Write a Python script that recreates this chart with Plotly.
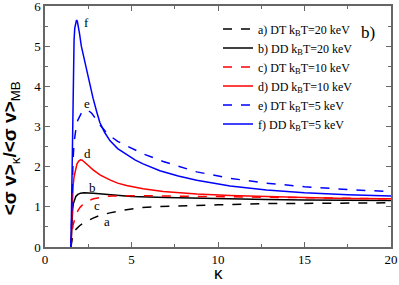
import plotly.graph_objects as go

# a) DT kBT=20 keV
xa = [1.5, 1.53, 1.57, 1.62, 1.7, 1.8, 2.0, 2.2, 2.4, 2.78, 3.2, 3.75, 4.71, 5.6, 6.64, 8.0, 10, 12.8, 15, 17.5, 20]
ya = [0, 0.12, 0.24, 0.33, 0.4, 0.45, 0.53, 0.59, 0.64, 0.72, 0.79, 0.85, 0.93, 0.98, 1.01, 1.03, 1.05, 1.08, 1.09, 1.10, 1.10]
# b) DD kBT=20 keV
xb = [1.5, 1.52, 1.54, 1.57, 1.6, 1.64, 1.7, 1.78, 1.9, 2.05, 2.25, 2.45, 2.8, 3.3, 4.0, 5.0, 7.0, 10, 12.8, 15, 20]
yb = [0, 0.25, 0.5, 0.78, 0.95, 1.08, 1.18, 1.26, 1.31, 1.34, 1.35, 1.35, 1.34, 1.32, 1.29, 1.26, 1.23, 1.20, 1.18, 1.17, 1.16]
# c) DT kBT=10 keV
xc = [1.5, 1.53, 1.57, 1.62, 1.7, 1.8, 1.92, 2.05, 2.25, 2.5, 2.8, 3.17, 3.5, 3.9, 4.5, 5.5, 7, 10, 12.8, 15, 20]
yc = [0, 0.22, 0.4, 0.54, 0.69, 0.82, 0.92, 1.0, 1.08, 1.15, 1.2, 1.24, 1.26, 1.27, 1.28, 1.28, 1.27, 1.25, 1.23, 1.22, 1.20]
# d) DD kBT=10 keV
xd = [1.5, 1.53, 1.57, 1.62, 1.68, 1.75, 1.85, 1.95, 2.05, 2.15, 2.3, 2.5, 2.78, 3.2, 3.75, 4.2, 4.71, 5.67, 6.83, 8.77, 10.7, 12.8, 15, 17.5, 20]
yd = [0, 0.55, 1.1, 1.5, 1.75, 1.92, 2.07, 2.14, 2.17, 2.16, 2.11, 2.03, 1.92, 1.79, 1.67, 1.59, 1.53, 1.45, 1.38, 1.32, 1.28, 1.25, 1.23, 1.21, 1.20]
# e) DT kBT=5 keV
xe = [1.5, 1.53, 1.57, 1.62, 1.68, 1.75, 1.82, 1.9, 2.0, 2.1, 2.2, 2.35, 2.5, 2.7, 2.9, 3.17, 3.45, 3.75, 4.2, 4.71, 5.67, 6.83, 8.77, 10.7, 12.8, 15, 17.5, 20]
ye = [0, 0.7, 1.5, 2.15, 2.6, 2.88, 3.04, 3.16, 3.26, 3.33, 3.38, 3.41, 3.40, 3.33, 3.21, 3.04, 2.9, 2.77, 2.63, 2.52, 2.32, 2.13, 1.87, 1.71, 1.59, 1.50, 1.43, 1.38]
# f) DD kBT=5 keV
xf = [1.5, 1.53, 1.56, 1.6, 1.64, 1.68, 1.72, 1.77, 1.82, 1.87, 1.93, 2.0, 2.1, 2.25, 2.4, 2.6, 2.78, 3.0, 3.17, 3.45, 3.75, 4.2, 4.71, 5.2, 5.67, 6.64, 7.7, 8.77, 10.7, 12.8, 15, 17.5, 20]
yf = [0, 0.9, 2.0, 3.4, 4.5, 5.15, 5.45, 5.6, 5.65, 5.62, 5.5, 5.3, 5.0, 4.7, 4.42, 4.03, 3.7, 3.35, 3.1, 2.85, 2.65, 2.45, 2.30, 2.17, 2.07, 1.90, 1.77, 1.66, 1.52, 1.42, 1.35, 1.30, 1.27]

names = ["a) DT k<sub>B</sub>T=20 keV", "b) DD k<sub>B</sub>T=20 keV",
         "c) DT k<sub>B</sub>T=10 keV", "d) DD k<sub>B</sub>T=10 keV",
         "e) DT k<sub>B</sub>T=5 keV", "f) DD k<sub>B</sub>T=5 keV"]
series = [(xa, ya), (xb, yb), (xc, yc), (xd, yd), (xe, ye), (xf, yf)]
colors = ["black", "black", "red", "red", "blue", "blue"]
dashes = ["dash", "solid", "dash", "solid", "dash", "solid"]

# curve labels
lab_text = ["a", "b", "c", "d", "e", "f"]
lab_x = [3.3, 2.42, 2.7, 2.15, 2.15, 2.15]
lab_y = [0.64, 1.47, 1.03, 2.34, 3.58, 5.6]

x_title = "κ"
y_title = "<b>&lt;σ v&gt;</b><sub>κ</sub><b>/&lt;σ v&gt;</b><sub>MB</sub>"

fig = go.Figure()
for (x, y), n, c, d in zip(series, names, colors, dashes):
    fig.add_trace(go.Scatter(x=x, y=y, name=n, mode="lines",
                             line=dict(color=c, dash=d, width=1.5)))

serif = "Liberation Serif, Times New Roman, DejaVu Serif, serif"
for t, x, y in zip(lab_text, lab_x, lab_y):
    fig.add_annotation(x=x, y=y, text=t, showarrow=False, xanchor="left", yanchor="middle",
                       font=dict(family=serif, size=13, color="black"))

fig.add_annotation(x=0.96, y=0.889, xref="paper", yref="paper", text="b)", showarrow=False,
                   xanchor="right", yanchor="middle", font=dict(family=serif, size=17, color="black"))

# axis titles as annotations for exact placement
fig.add_annotation(x=0.5, y=-0.112, xref="paper", yref="paper", text=x_title, showarrow=False,
                   xanchor="center", yanchor="middle",
                   font=dict(family="Liberation Sans", size=17, color="black"))
fig.add_annotation(x=-0.098, y=0.41, xref="paper", yref="paper", text=y_title, showarrow=False,
                   textangle=-90, xanchor="center", yanchor="middle",
                   font=dict(family="Liberation Sans", size=19, color="black"))

axcol = "#666666"
fig.update_xaxes(range=[0, 20], tickvals=[0, 5, 10, 15, 20], ticks="inside", ticklen=5,
                 tickcolor=axcol, showline=True, linecolor=axcol, linewidth=1.5, mirror="ticks",
                 showgrid=False, zeroline=False, automargin=False, ticklabeloverflow="allow",
                 minor=dict(tickvals=[2.5, 7.5, 12.5, 17.5], ticks="inside", ticklen=3, tickcolor=axcol),
                 tickfont=dict(family=serif, size=13, color="black"))
fig.update_yaxes(range=[0, 6], tickvals=[0, 1, 2, 3, 4, 5, 6], ticks="inside", ticklen=5,
                 tickcolor=axcol, showline=True, linecolor=axcol, linewidth=1.5, mirror="ticks",
                 showgrid=False, zeroline=False, automargin=False, ticklabeloverflow="allow",
                 minor=dict(tickvals=[0.5, 1.5, 2.5, 3.5, 4.5, 5.5], ticks="inside", ticklen=3, tickcolor=axcol),
                 tickfont=dict(family=serif, size=13, color="black"))

fig.update_layout(width=399, height=285, margin=dict(l=45, r=8, t=6, b=38, autoexpand=False),
                  paper_bgcolor="white", plot_bgcolor="white", showlegend=True,
                  legend=dict(x=0.5, y=0.965, xanchor="left", yanchor="top", bgcolor="rgba(0,0,0,0)",
                              font=dict(family=serif, size=12, color="black"), tracegroupgap=0,
                              itemwidth=30))
fig.write_html("out.html", config={"displayModeBar": False},
               post_script="document.body.style.margin='0';")
